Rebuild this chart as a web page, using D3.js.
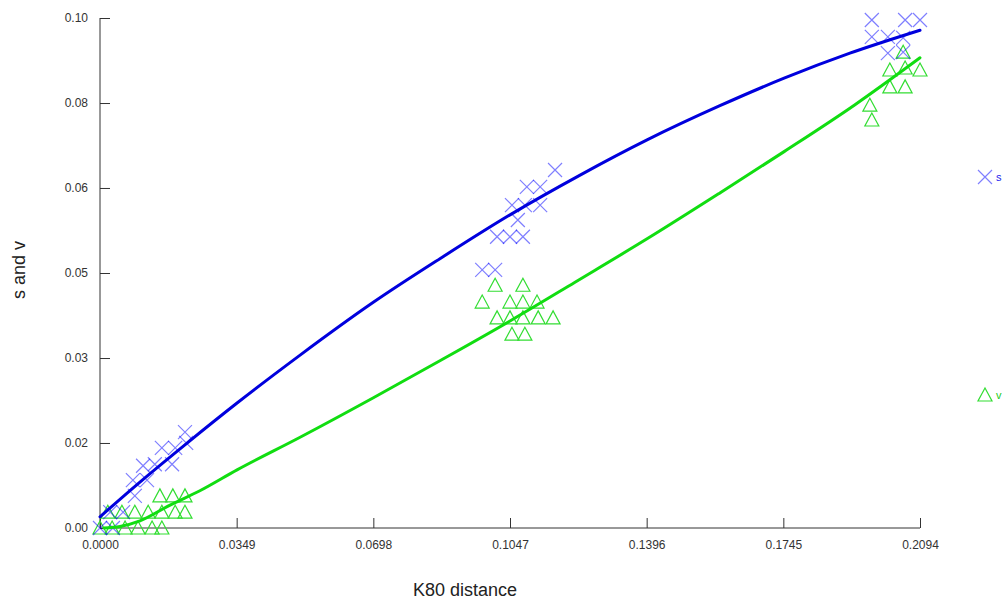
<!DOCTYPE html>
<html>
<head>
<meta charset="utf-8">
<script src="https://cdn.jsdelivr.net/npm/d3@7"></script>
<style>
  html, body { margin: 0; padding: 0; background: #fff; }
  svg { display: block; font-family: "Liberation Sans", Arial, sans-serif; }
</style>
</head>
<body>
<svg id="chart" width="1007" height="600"></svg>
<script>
// Transitions (s) and transversions (v) plotted against K80 distance.
const sX = [0, 0.0033, 0.0026, 0.0059, 0.0089, 0.0084, 0.0120, 0.0110, 0.0140, 0.0158, 0.0184, 0.0192, 0.0217, 0.0220,
            0.1162, 0.1090, 0.1124, 0.1052, 0.1085, 0.1124, 0.1067, 0.1014, 0.1047, 0.1080, 0.0976, 0.1009,
            0.1971, 0.2056, 0.2094, 0.1971, 0.2012, 0.2051, 0.2012, 0.2051];
const sY = [0, 0, 0.0031, 0.0031, 0.0063, 0.0094, 0.0094, 0.0122, 0.0125, 0.0157, 0.0125, 0.0157, 0.0188, 0.0167,
            0.0702, 0.0669, 0.0669, 0.0633, 0.0633, 0.0633, 0.0604, 0.0571, 0.0571, 0.0571, 0.0506, 0.0506,
            0.0996, 0.0996, 0.0996, 0.0963, 0.0963, 0.0961, 0.0931, 0.0933];

const vX = [0, 0.0031, 0.0064, 0.0097, 0.0133, 0.0158,
            0.0020, 0.0056, 0.0089, 0.0123, 0.0158, 0.0192, 0.0217,
            0.0153, 0.0186, 0.0217,
            0.0976, 0.1009, 0.1080, 0.1047, 0.1080, 0.1116, 0.1014, 0.1047, 0.1080, 0.1119, 0.1157, 0.1052, 0.1085,
            0.2051, 0.2017, 0.2056, 0.2094, 0.2017, 0.2056, 0.1966, 0.1971];
const vY = [0, 0, 0, 0, 0, 0,
            0.0031, 0.0031, 0.0031, 0.0031, 0.0031, 0.0031, 0.0031,
            0.0063, 0.0063, 0.0063,
            0.0443, 0.0476, 0.0476, 0.0443, 0.0443, 0.0443, 0.0412, 0.0412, 0.0412, 0.0412, 0.0412, 0.0380, 0.0380,
            0.0933, 0.0898, 0.0902, 0.0898, 0.0865, 0.0865, 0.0829, 0.0800];

// Fitted trend curves
const sFitX = [0, 0.0102, 0.0220, 0.0350, 0.0511, 0.0697, 0.0868, 0.1047, 0.1226, 0.1397, 0.1583, 0.1747, 0.1915, 0.2094];
const sFitY = [0.0022, 0.0090, 0.0165, 0.0245, 0.0339, 0.0442, 0.0528, 0.0614, 0.0692, 0.0761, 0.0828, 0.0882, 0.0931, 0.0976];
const vFitX = [0.0010, 0.0051, 0.0102, 0.0179, 0.0255, 0.0350, 0.0511, 0.0697, 0.0868, 0.1047, 0.1213, 0.1397, 0.1583, 0.1747, 0.1928, 0.2094];
const vFitY = [0, 0.0003, 0.0014, 0.0045, 0.0073, 0.0114, 0.0178, 0.0255, 0.0328, 0.0406, 0.0482, 0.0567, 0.0657, 0.0738, 0.0830, 0.0922];

const xTicks = [0, 0.0349, 0.0698, 0.1047, 0.1396, 0.1745, 0.2094];
const xTickLabels = ["0.0000", "0.0349", "0.0698", "0.1047", "0.1396", "0.1745", "0.2094"];
const yTicks = [0, 0.01667, 0.03333, 0.05, 0.06667, 0.08333, 0.1];
const yTickLabels = ["0.00", "0.02", "0.03", "0.05", "0.06", "0.08", "0.10"];

const seriesNames = ["s", "v"];

const svg = d3.select("#chart");
const x = d3.scaleLinear().domain([0, 0.2094]).range([100, 920]);
const y = d3.scaleLinear().domain([0, 0.1]).range([528, 18]);

const blueLine = "#0000dd", greenLine = "#11dd11";
const crossColor = "#0000ff", triColor = "#33dd33";

// Axes
const xAxis = d3.axisBottom(x).tickValues(xTicks).tickSize(-10).tickPadding(12)
  .tickFormat((d, i) => xTickLabels[i]);
const yAxis = d3.axisLeft(y).tickValues(yTicks).tickSize(-10).tickPadding(12)
  .tickFormat((d, i) => yTickLabels[i]);

const gx = svg.append("g").attr("transform", "translate(0,528)").call(xAxis);
const gy = svg.append("g").attr("transform", "translate(100,0)").call(yAxis);
[gx, gy].forEach(g => {
  g.select(".domain").attr("stroke", "#333").attr("stroke-width", 1);
  g.selectAll(".tick line").attr("stroke", "#333");
  g.selectAll(".tick text").attr("fill", "#333").style("font-size", "12px")
    .style("font-family", "'Liberation Sans', Arial, sans-serif");
});
gx.select(".domain").attr("d", "M100,0H920");
gy.select(".domain").attr("d", "M0,18V528");
gy.selectAll(".tick text").attr("x", -12);

// Axis titles
svg.append("text").attr("x", 465).attr("y", 596)
  .attr("text-anchor", "middle").style("font-size", "18px").attr("fill", "#222")
  .text("K80 distance");
svg.append("text").attr("transform", "translate(25,270) rotate(-90)")
  .attr("text-anchor", "middle").style("font-size", "18px").attr("fill", "#222")
  .text("s and v");

// Marker shapes
const crossPath = "M-7,-7L7,7M-7,7L7,-7";
const triPath = "M0,-7L7,6L-7,6Z";

const sPts = sX.map((d, i) => [d, sY[i]]);
const vPts = vX.map((d, i) => [d, vY[i]]);

svg.append("g").selectAll("path").data(vPts).join("path")
  .attr("transform", d => `translate(${x(d[0])},${y(d[1])})`)
  .attr("d", triPath).attr("fill", "none")
  .attr("stroke", triColor).attr("stroke-width", 1.2);

svg.append("g").selectAll("path").data(sPts).join("path")
  .attr("transform", d => `translate(${x(d[0])},${y(d[1])})`)
  .attr("d", crossPath).attr("fill", "none")
  .attr("stroke", crossColor).attr("stroke-opacity", 0.5).attr("stroke-width", 1.2);

// Trend curves
const line = d3.line().x(d => x(d[0])).y(d => y(d[1])).curve(d3.curveMonotoneX);
svg.append("path").datum(vFitX.map((d, i) => [d, vFitY[i]]))
  .attr("d", line).attr("fill", "none").attr("stroke", greenLine)
  .attr("stroke-width", 3).attr("stroke-linecap", "round");
svg.append("path").datum(sFitX.map((d, i) => [d, sFitY[i]]))
  .attr("d", line).attr("fill", "none").attr("stroke", blueLine)
  .attr("stroke-width", 3).attr("stroke-linecap", "round");

// Legend
const legend = [
  { name: seriesNames[0], shape: crossPath, color: crossColor, op: 0.5, ly: 177, tc: "#2222ee" },
  { name: seriesNames[1], shape: triPath, color: triColor, op: 1, ly: 395, tc: "#22cc22" }
];
const lg = svg.append("g").selectAll("g").data(legend).join("g")
  .attr("transform", d => `translate(985,${d.ly})`);
lg.append("path").attr("d", d => d.shape).attr("fill", "none")
  .attr("stroke", d => d.color).attr("stroke-opacity", d => d.op).attr("stroke-width", 1.2);
lg.append("text").attr("x", 11).attr("y", 4).style("font-size", "11px")
  .attr("fill", d => d.tc).text(d => d.name);
</script>
</body>
</html>
